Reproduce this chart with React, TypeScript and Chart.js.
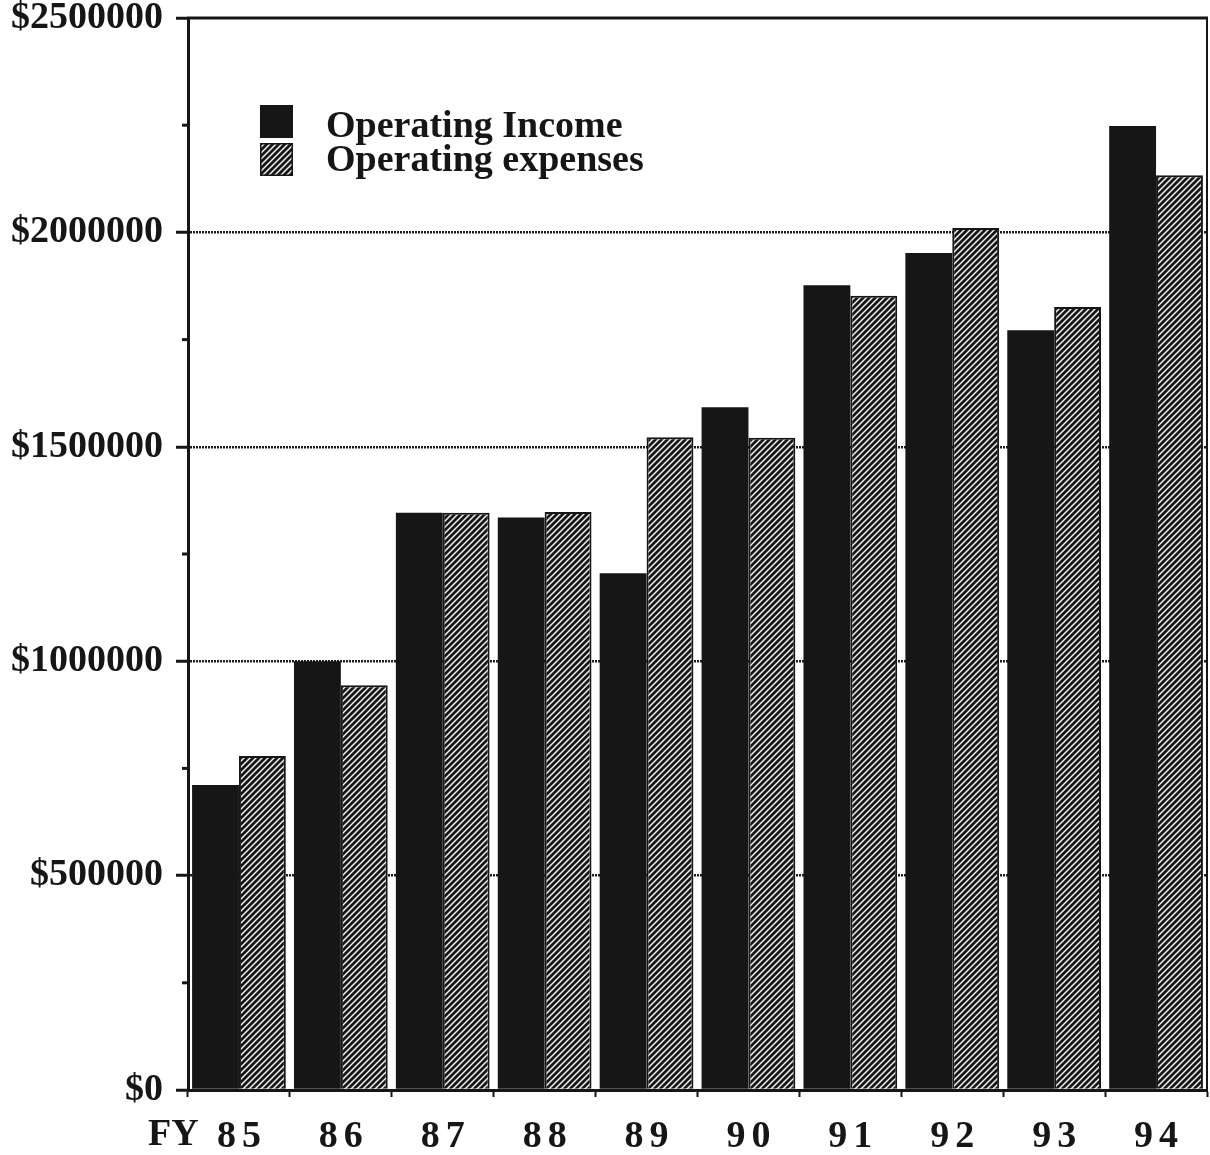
import { useEffect, useRef } from "react";
import { Chart, registerables } from "chart.js";

Chart.register(...registerables);

// Fiscal years (FY 85 – FY 94)
const fiscalYears = ["85", "86", "87", "88", "89", "90", "91", "92", "93", "94"];

// Dollar amounts per fiscal year
const operatingIncome = [711000, 1000000, 1346000, 1335000, 1205000, 1592000, 1877000, 1952000, 1772000, 2248000];
const operatingExpenses = [779000, 944000, 1346000, 1348000, 1522000, 1521000, 1852000, 2010000, 1826000, 2133000];

const seriesLabels = ["Operating Income", "Operating expenses"];

// Value axis: minor ticks every 250000, labelled ticks every 500000
const yMax = 2500000;
const yStep = 250000;
const yLabelStep = 500000;

const SERIF = '"Liberation Serif", "Times New Roman", Times, serif';
const INK = "#161616";
const FONT_SIZE = 38;

function makeHatch(): CanvasPattern | string {
  const c = document.createElement("canvas");
  c.width = 6;
  c.height = 6;
  const g = c.getContext("2d");
  if (!g) return INK;
  g.fillStyle = INK;
  g.fillRect(0, 0, 6, 6);
  g.strokeStyle = "#f2f2f2";
  g.lineWidth = 1.5;
  g.beginPath();
  g.moveTo(-1, 7);
  g.lineTo(7, -1);
  g.moveTo(-1, 1);
  g.lineTo(1, -1);
  g.moveTo(5, 7);
  g.lineTo(7, 5);
  g.stroke();
  const p = g.createPattern(c, "repeat");
  return p || INK;
}

const decorPlugin = {
  id: "decor",
  afterDraw(chart: any) {
    const { ctx, chartArea: a, scales } = chart;
    const ys = scales.y;
    const xs = scales.x;
    ctx.save();

    // frame: top and right edges
    ctx.strokeStyle = INK;
    ctx.lineCap = "butt";
    ctx.lineWidth = 3;
    ctx.beginPath();
    ctx.moveTo(a.left - 1, a.top);
    ctx.lineTo(a.right + 1, a.top);
    ctx.stroke();
    ctx.lineWidth = 2;
    ctx.beginPath();
    ctx.moveTo(a.right, a.top);
    ctx.lineTo(a.right, a.bottom);
    ctx.stroke();

    // short minor ticks on the value axis
    ctx.lineWidth = 3;
    for (let v = yStep; v < yMax; v += yLabelStep) {
      const y = ys.getPixelForValue(v);
      ctx.beginPath();
      ctx.moveTo(a.left - 6, y);
      ctx.lineTo(a.left, y);
      ctx.stroke();
    }

    // legend inside the plot
    const boxX = a.left + 72;
    const boxY = a.top + 87;
    const boxS = 33;
    const rowH = 38;
    ctx.font = `bold ${FONT_SIZE}px ${SERIF}`;
    ctx.textAlign = "left";
    ctx.textBaseline = "alphabetic";
    chart.data.datasets.forEach((ds: any, i: number) => {
      const y0 = boxY + i * rowH;
      ctx.fillStyle = ds.backgroundColor;
      ctx.fillRect(boxX, y0, boxS, boxS);
      ctx.strokeStyle = INK;
      ctx.lineWidth = 1.5;
      ctx.strokeRect(boxX + 0.75, y0 + 0.75, boxS - 1.5, boxS - 1.5);
      ctx.fillStyle = INK;
      ctx.fillText(ds.label, boxX + boxS + 33, y0 + boxS - 1 - i * 4);
    });

    // category labels, spaced out, with the FY caption
    const base = a.bottom + 57;
    ctx.fillStyle = INK;
    ctx.font = `bold ${FONT_SIZE}px ${SERIF}`;
    (ctx as any).letterSpacing = "6px";
    ctx.textAlign = "center";
    chart.data.labels.forEach((lab: string, i: number) => {
      const x = xs.getPixelForValue(i);
      ctx.fillText(lab, x + 3, base);
    });
    (ctx as any).letterSpacing = "0px";
    ctx.textAlign = "left";
    ctx.fillText("FY", a.left - 40, base - 2);

    ctx.restore();
  },
};

export default function App() {
  const ref = useRef<HTMLCanvasElement | null>(null);

  useEffect(() => {
    const canvas = ref.current;
    if (!canvas) return;
    const hatch = makeHatch();

    const chart = new Chart(canvas, {
      type: "bar",
      data: {
        labels: fiscalYears,
        datasets: [
          {
            label: seriesLabels[0],
            data: operatingIncome,
            backgroundColor: INK,
            borderWidth: 0,
            categoryPercentage: 0.92,
            barPercentage: 1.0,
          },
          {
            label: seriesLabels[1],
            data: operatingExpenses,
            backgroundColor: hatch as any,
            borderColor: INK,
            borderWidth: 2,
            categoryPercentage: 0.92,
            barPercentage: 1.0,
          },
        ],
      },
      options: {
        responsive: false,
        animation: false,
        events: [],
        layout: { padding: { top: 18, right: 3, left: 0, bottom: 0 } },
        plugins: {
          legend: { display: false },
          tooltip: { enabled: false },
        },
        scales: {
          x: {
            type: "category",
            offset: true,
            grid: {
              offset: true,
              drawOnChartArea: false,
              drawTicks: true,
              tickLength: 7,
              tickWidth: 2,
              tickColor: INK,
            },
            border: { display: true, color: INK, width: 3 },
            ticks: { display: false },
            afterFit(scale: any) {
              scale.height = 65;
            },
          },
          y: {
            min: 0,
            max: yMax,
            ticks: {
              stepSize: yStep,
              padding: 13,
              color: INK,
              font: { family: SERIF, size: FONT_SIZE, weight: "bold", lineHeight: 1 },
              callback: (v: any) => (Number(v) % yLabelStep === 0 ? "$" + Number(v) : ""),
            },
            grid: {
              lineWidth: 2.5,
              color: (c: any) => {
                const v = c.tick ? c.tick.value : 0;
                return v > 0 && v < yMax && v % yLabelStep === 0 ? "#1c1c1c" : "rgba(0,0,0,0)";
              },
              drawTicks: true,
              tickLength: 12,
              tickWidth: 3,
              tickColor: (c: any) => {
                const v = c.tick ? c.tick.value : 0;
                return v % yLabelStep === 0 ? INK : "rgba(0,0,0,0)";
              },
            },
            border: { display: true, color: INK, width: 3, dash: [2, 1] },
            afterFit(scale: any) {
              scale.width = 188;
              scale.paddingTop = 0;
              scale.paddingBottom = 0;
            },
          },
        },
      },
      plugins: [decorPlugin],
    });

    return () => chart.destroy();
  }, []);

  return (
    <div style={{ position: "fixed", left: 0, top: 0, width: 1210, height: 1155, background: "#fff" }}>
      <canvas ref={ref} width={1210} height={1155} style={{ display: "block", width: 1210, height: 1155 }} />
    </div>
  );
}
